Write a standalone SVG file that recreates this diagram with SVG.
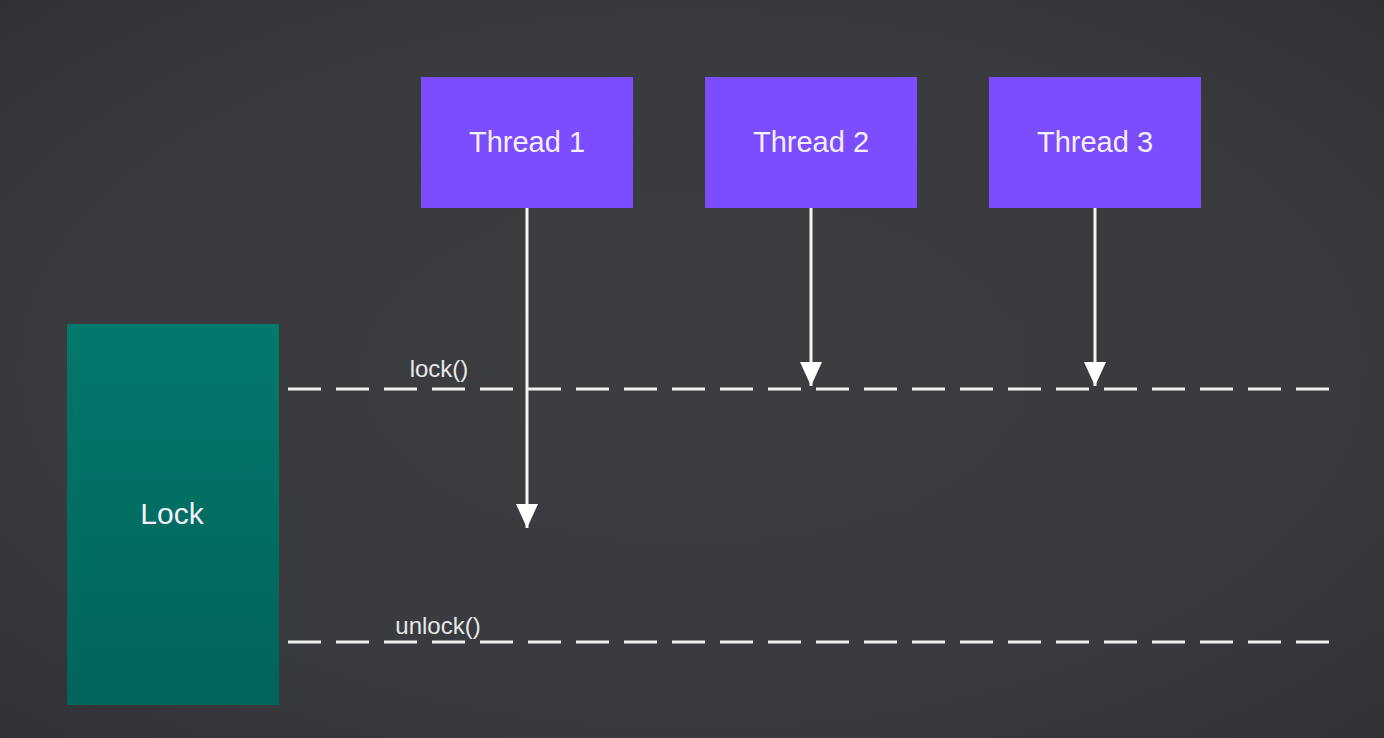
<svg xmlns="http://www.w3.org/2000/svg" width="1384" height="738" viewBox="0 0 1384 738">
<defs>
<radialGradient id="bg" cx="0.5" cy="0.5" r="0.75">
<stop offset="0" stop-color="#3b3d40"/>
<stop offset="0.6" stop-color="#393b3e"/>
<stop offset="1" stop-color="#2e3033"/>
</radialGradient>
<linearGradient id="lockg" x1="0" y1="0" x2="0" y2="1">
<stop offset="0" stop-color="#02796b"/>
<stop offset="1" stop-color="#02635a"/>
</linearGradient>
<marker id="ah" viewBox="0 0 24 22" markerWidth="24" markerHeight="22" refX="24" refY="11" orient="auto" markerUnits="userSpaceOnUse">
<path d="M0,0 L24,11 L0,22 Z" fill="#ffffff"/>
</marker>
<style>
.thread{fill:#7c4dff}
.label{font-family:"Liberation Sans",Arial,sans-serif;fill:#f4f0fa;text-anchor:middle}
.big{font-size:29px}
.lk{font-size:30px}
.small{font-size:24px;fill:#e8e8e8}
.dash{stroke:#f0f0f0;stroke-width:3;stroke-dasharray:33 15;fill:none}
.arrow{stroke:#f4f4f4;stroke-width:3;fill:none;marker-end:url(#ah)}
</style>
</defs>
<rect width="1384" height="738" fill="url(#bg)"/>
<g id="lock">
<rect x="67" y="324" width="212" height="381" fill="url(#lockg)"/>
<text class="label lk" x="172" y="524">Lock</text>
</g>
<g id="thread1">
<rect class="thread" x="421" y="77" width="212" height="131"/>
<text class="label big" x="527" y="152">Thread 1</text>
</g>
<g id="thread2">
<rect class="thread" x="705" y="77" width="212" height="131"/>
<text class="label big" x="811" y="152">Thread 2</text>
</g>
<g id="thread3">
<rect class="thread" x="989" y="77" width="212" height="131"/>
<text class="label big" x="1095" y="152">Thread 3</text>
</g>
<g id="connectors">
<line class="dash" x1="288" y1="389" x2="1330" y2="389"/>
<line class="dash" x1="288" y1="642" x2="1330" y2="642"/>
<text class="label small" x="439" y="377">lock()</text>
<text class="label small" x="438" y="634">unlock()</text>
<line class="arrow" x1="527" y1="208" x2="527" y2="528"/>
<line class="arrow" x1="811" y1="208" x2="811" y2="386"/>
<line class="arrow" x1="1095" y1="208" x2="1095" y2="386"/>
</g>
</svg>
